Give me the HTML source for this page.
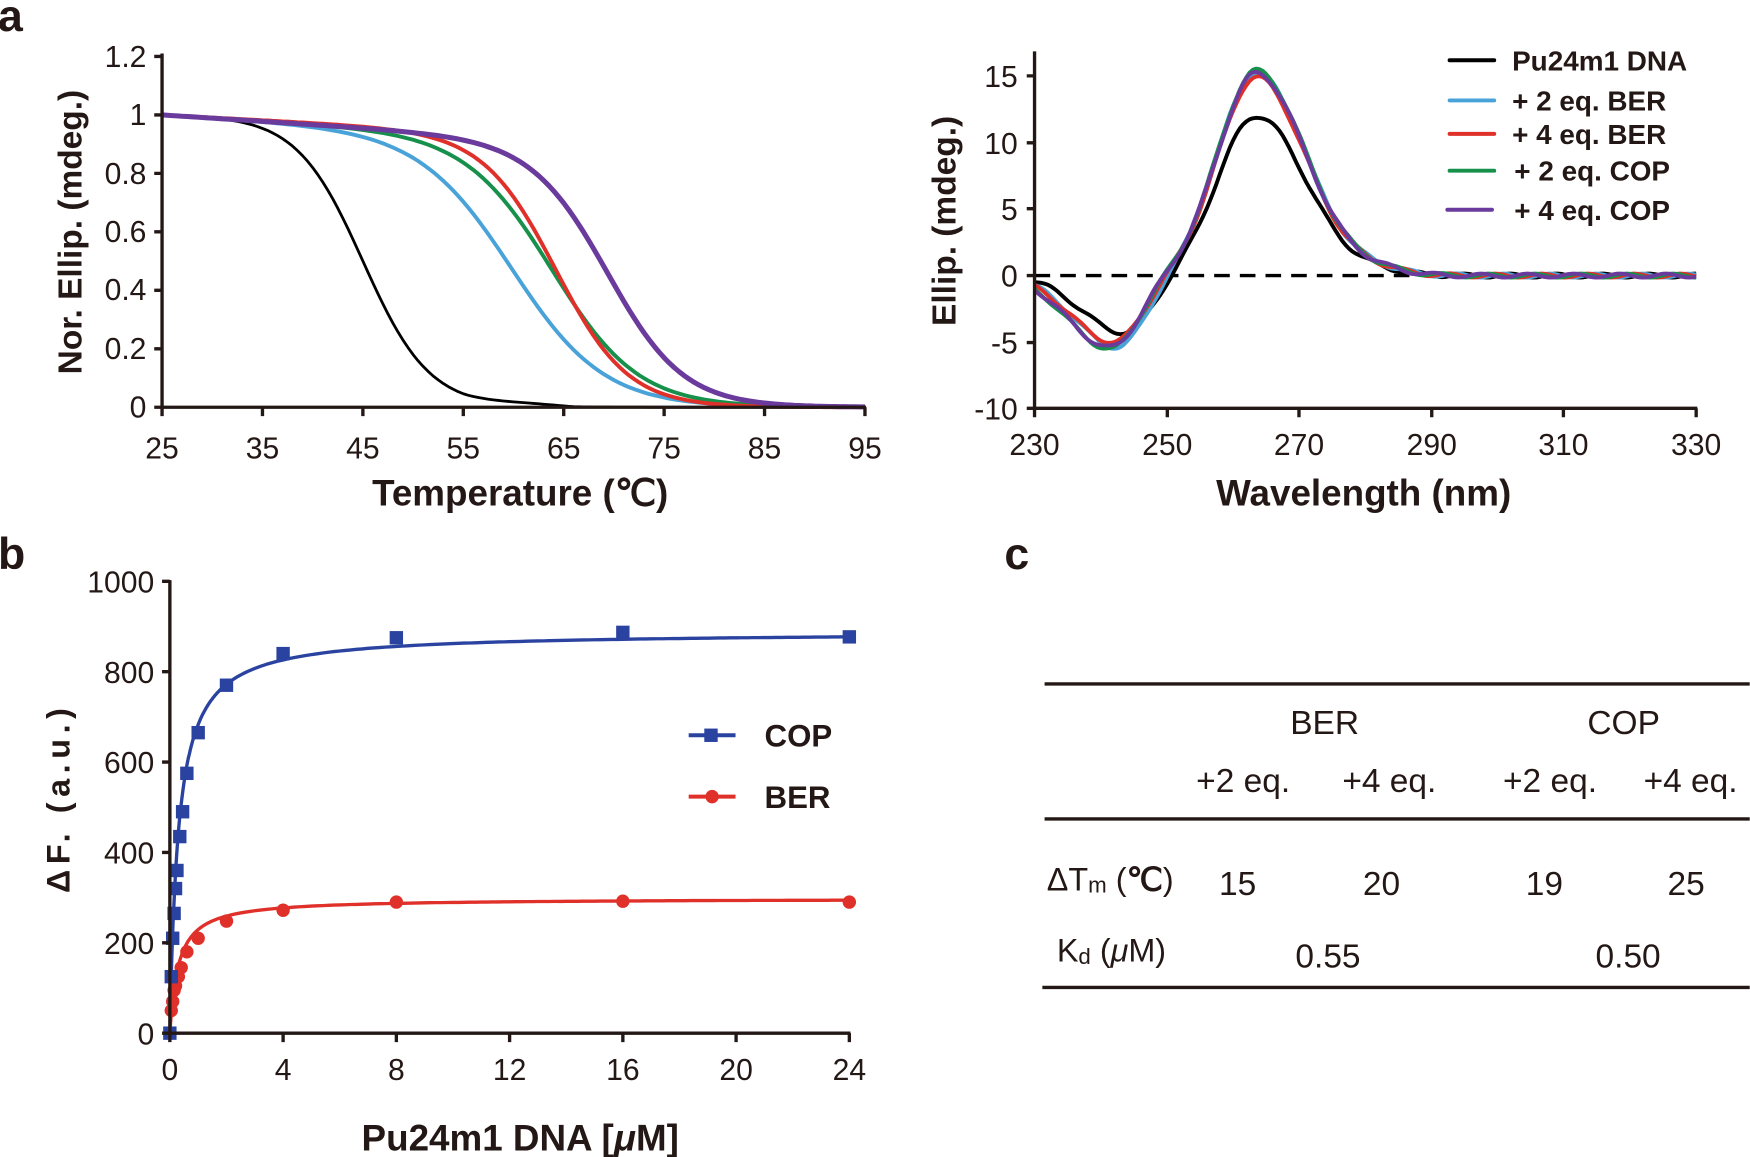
<!DOCTYPE html>
<html><head><meta charset="utf-8"><style>
html,body{margin:0;padding:0;background:#fff}
svg{display:block}
text{font-family:"Liberation Sans Narrow","Liberation Sans",sans-serif;fill:#231815}
.tk{font-size:27px}
.bt{font-weight:bold}
.ar{font-family:"Liberation Sans",sans-serif}
</style></head><body>
<svg id="s" width="1750" height="1157" viewBox="0 0 1568 1037" xmlns="http://www.w3.org/2000/svg">
<text x="-2" y="28" font-size="40" class="bt ar">a</text>
<text x="-2" y="510" font-size="40" class="bt ar">b</text>
<text x="900" y="510" font-size="40" class="bt ar">c</text>

<g id="aL"></g>
<g stroke="#231815" stroke-width="3" fill="none">
<path d="M145,48 V365 H776"/>
<path d="M138,50.6H145 M138,103H145 M138,155.4H145 M138,207.8H145 M138,260.2H145 M138,312.6H145 M138,365H145"/>
<path d="M145,365v8 M235,365v8 M325,365v8 M415,365v8 M505,365v8 M595,365v8 M685,365v8 M775,365v8"/>
</g>
<g class="tk" text-anchor="end">
<text x="131" y="60">1.2</text><text x="131" y="112">1</text><text x="131" y="165">0.8</text>
<text x="131" y="217">0.6</text><text x="131" y="269">0.4</text><text x="131" y="322">0.2</text><text x="131" y="374">0</text>
</g>
<g class="tk" text-anchor="middle">
<text x="145" y="411">25</text><text x="235" y="411">35</text><text x="325" y="411">45</text><text x="415" y="411">55</text>
<text x="505" y="411">65</text><text x="595" y="411">75</text><text x="685" y="411">85</text><text x="775" y="411">95</text>
</g>
<text x="466" y="453" text-anchor="middle" font-size="33" class="bt">Temperature (℃)</text>
<text transform="translate(73,208) rotate(-90)" text-anchor="middle" font-size="30" class="bt ar">Nor. Ellip. (mdeg.)</text>

<line x1="927" y1="247" x2="1270" y2="247" stroke="#000" stroke-width="3" stroke-dasharray="14,9"/>
<g id="aR"></g>
<g stroke="#231815" stroke-width="3" fill="none">
<path d="M927,46 V366 H1521"/>
<path d="M920,68H927 M920,128H927 M920,187H927 M920,247H927 M920,307H927 M920,366H927"/>
<path d="M927,366v8 M1046,366v8 M1164,366v8 M1283,366v8 M1401,366v8 M1520,366v8"/>
</g>
<g class="tk" text-anchor="end">
<text x="912" y="78">15</text><text x="912" y="138">10</text><text x="912" y="197">5</text>
<text x="912" y="257">0</text><text x="912" y="317">-5</text><text x="912" y="376">-10</text>
</g>
<g class="tk" text-anchor="middle">
<text x="927" y="408">230</text><text x="1046" y="408">250</text><text x="1164" y="408">270</text>
<text x="1283" y="408">290</text><text x="1401" y="408">310</text><text x="1520" y="408">330</text>
</g>
<text x="1222" y="453" text-anchor="middle" font-size="33" class="bt">Wavelength (nm)</text>
<text transform="translate(856,198) rotate(-90)" text-anchor="middle" font-size="30" class="bt ar">Ellip. (mdeg.)</text>
<g stroke-width="3.5" stroke-linecap="round">
<line x1="1299" y1="54" x2="1339" y2="54" stroke="#000"/>
<line x1="1299" y1="90" x2="1339" y2="90" stroke="#4aa3d8"/>
<line x1="1299" y1="120" x2="1339" y2="120" stroke="#e0302a"/>
<line x1="1299" y1="153" x2="1339" y2="153" stroke="#16904a"/>
<line x1="1297" y1="188" x2="1337" y2="188" stroke="#6a3b9c"/>
</g>
<g font-size="25" class="bt ar">
<text x="1355" y="63">Pu24m1 DNA</text>
<text x="1355" y="99">+ 2 eq. BER</text>
<text x="1355" y="129">+ 4 eq. BER</text>
<text x="1357" y="162">+ 2 eq. COP</text>
<text x="1357" y="197">+ 4 eq. COP</text>
</g>

<g id="bP"></g>
<g stroke="#231815" stroke-width="3" fill="none">
<path d="M152,520 V926 H762"/>
<path d="M145,521H152 M145,602H152 M145,683H152 M145,764H152 M145,845H152 M145,926H152"/>
<path d="M152,926v8 M253.5,926v8 M355,926v8 M456.5,926v8 M558,926v8 M659.5,926v8 M761,926v8"/>
</g>
<g class="tk" text-anchor="end">
<text x="138" y="531">1000</text><text x="138" y="612">800</text><text x="138" y="693">600</text>
<text x="138" y="774">400</text><text x="138" y="855">200</text><text x="138" y="936">0</text>
</g>
<g class="tk" text-anchor="middle">
<text x="152" y="968">0</text><text x="253.5" y="968">4</text><text x="355" y="968">8</text><text x="456.5" y="968">12</text>
<text x="558" y="968">16</text><text x="659.5" y="968">20</text><text x="761" y="968">24</text>
</g>
<text x="466" y="1031" text-anchor="middle" font-size="33" class="bt">Pu24m1 DNA [<tspan font-style="italic">μ</tspan>M]</text>
<text transform="translate(62,715) rotate(-90)" text-anchor="middle" font-size="29" class="bt ar" letter-spacing="5">ΔF. (a.u.)</text>
<line x1="617" y1="659" x2="659" y2="659" stroke="#2b43a0" stroke-width="3.5"/>
<rect x="631" y="653" width="12" height="12" fill="#2b43a0"/>
<line x1="617" y1="714" x2="659" y2="714" stroke="#e0302a" stroke-width="3.5"/>
<circle cx="638" cy="714" r="6" fill="#e0302a"/>
<text x="685" y="669" font-size="28" class="bt">COP</text>
<text x="685" y="724" font-size="28" class="bt">BER</text>

<g stroke="#231815" stroke-width="3">
<line x1="936" y1="613" x2="1568" y2="613"/>
<line x1="936" y1="734" x2="1568" y2="734"/>
<line x1="934" y1="885" x2="1568" y2="885"/>
</g>
<g font-size="30" text-anchor="middle">
<text x="1187" y="658">BER</text><text x="1455" y="658">COP</text>
<text x="1114" y="710">+2 eq.</text><text x="1245" y="710">+4 eq.</text>
<text x="1389" y="710">+2 eq.</text><text x="1515" y="710">+4 eq.</text>
<text x="1109" y="802">15</text><text x="1238" y="802">20</text><text x="1384" y="802">19</text><text x="1511" y="802">25</text>
<text x="1190" y="867">0.55</text><text x="1459" y="867">0.50</text>
</g>
<text x="938" y="798" font-size="29">ΔT<tspan font-size="20" dy="2">m</tspan><tspan dy="-2"> (<tspan font-weight="bold">℃</tspan>)</tspan></text>
<text x="947" y="862" font-size="29">K<tspan font-size="20" dy="2">d</tspan><tspan dy="-2"> (<tspan font-style="italic">μ</tspan>M)</tspan></text>
</svg>
<script>
var NS="http://www.w3.org/2000/svg";
function add(g,d,c,w){var p=document.createElementNS(NS,"path");p.setAttribute("d",d);p.setAttribute("stroke",c);p.setAttribute("stroke-width",w);p.setAttribute("fill","none");p.setAttribute("stroke-linejoin","round");document.getElementById(g).appendChild(p);return p;}
function melt(T,Tm,w,slope){var b=1-slope*(T-25);return b/(1+Math.exp((T-Tm)/w));}
var mel=[["#000",45,3.3,0.0,2.5],["#4aa3d8",60,4.6,0.002,3.5],["#16904a",64,4.3,0.002,3.5],["#e0302a",64.3,3.6,0.0018,3.5],["#6a3b9c",69.5,3.8,0.0022,4.5]];
mel.forEach(function(m){var d="";for(var T=25;T<=95;T+=0.5){var v=melt(T,m[1],m[2],m[3]);if(m[0]=="#000"&&T>55&&T<66)v+=0.008*Math.sin((T-55)/11*Math.PI);var x=145+(T-25)*9,y=365-v*262;d+=(T==25?"M":"L")+x.toFixed(1)+","+y.toFixed(1);}add("aL",d,m[0],m[4]);});
function cd(x,A,B,mn){var pk=263.5,s=x<pk?8.2:10.5;var tw=x<mn?9:6;var v=A*Math.exp(-Math.pow((x-pk)/s,2))-B*Math.exp(-Math.pow((x-mn)/tw,2));v+=0.35*A/15*Math.exp(-Math.pow((x-282)/6,2));return v;}
var cds=[["#000",12,4.3,243.5,0],["#4aa3d8",15.2,5.4,242.5,1],["#e0302a",14.9,5.0,242,2],["#16904a",15.4,5.5,241.5,3],["#6a3b9c",15.2,5.4,241.5,4]];
cds.forEach(function(c){var d="";for(var x=230;x<=330;x+=0.5){var v=cd(x,c[1],c[2],c[3])+0.15*Math.sin(x*0.9+c[4]);var X=927+(x-230)*5.93,Y=247-v*11.93;d+=(x==230?"M":"L")+X.toFixed(1)+","+Y.toFixed(1);}add("aR",d,c[0],3.5);});
function bx(x){return 152+x*25.375;}function by(v){return 926-v*0.405;}
function fit(B,K,c){var d="";var xs=[];for(var x=0;x<=24;x+=(x<2?0.02:0.2))xs.push(x);xs.forEach(function(x,i){d+=(i?"L":"M")+bx(x).toFixed(1)+","+by(B*x/(K+x)).toFixed(1);});add("bP",d,c,3);}
fit(298,0.3,"#e0302a");fit(888,0.3,"#2b43a0");
var g=document.getElementById("bP");
[[0.05,50],[0.1,70],[0.15,95],[0.2,105],[0.3,125],[0.4,145],[0.6,180],[1,210],[2,248],[4,272],[8,290],[16,292],[24,290]].forEach(function(p){var c=document.createElementNS(NS,"circle");c.setAttribute("cx",bx(p[0]));c.setAttribute("cy",by(p[1]));c.setAttribute("r",6);c.setAttribute("fill","#e0302a");g.appendChild(c);});
[[0,0],[0.05,125],[0.1,210],[0.15,265],[0.2,320],[0.25,360],[0.35,435],[0.45,490],[0.6,575],[1,665],[2,770],[4,840],[8,875],[16,887],[24,877]].forEach(function(p){var r=document.createElementNS(NS,"rect");r.setAttribute("x",bx(p[0])-6);r.setAttribute("y",by(p[1])-6);r.setAttribute("width",12);r.setAttribute("height",12);r.setAttribute("fill","#2b43a0");g.appendChild(r);});
</script>
</body></html>
